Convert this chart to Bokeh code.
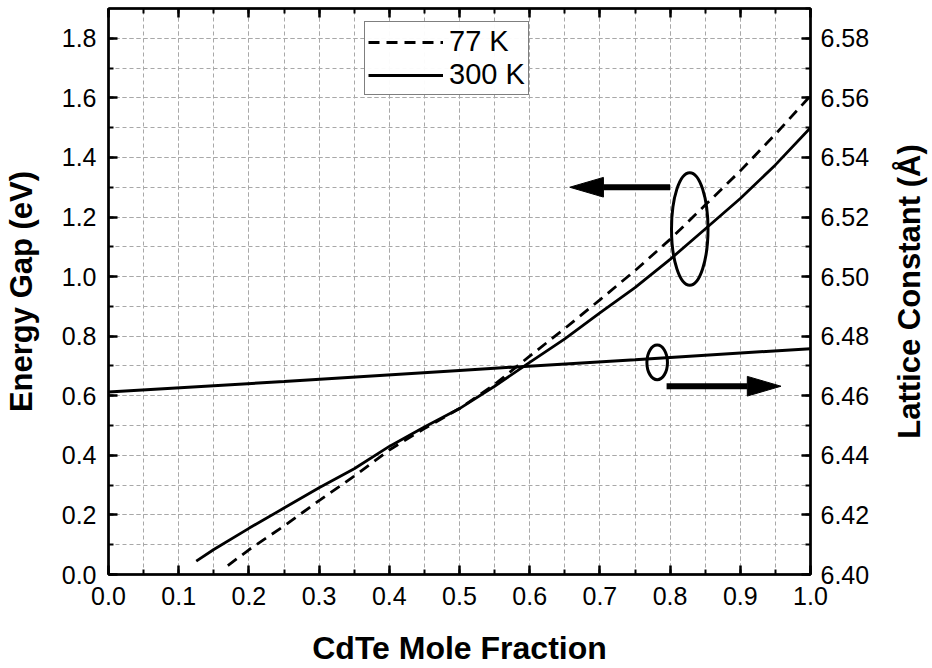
from bokeh.plotting import figure
from bokeh.layouts import row
from bokeh.models import (Range1d, LinearAxis, SingleIntervalTicker, PrintfTickFormatter,
                          Legend, LegendItem, CustomLabelingPolicy, FixedTicker)
from bokeh.embed import file_html
from bokeh.resources import INLINE

# ---------------- data ----------------
x_300k = [0.125, 0.15, 0.2, 0.25, 0.3, 0.35, 0.4, 0.45, 0.5, 0.55, 0.6, 0.65, 0.7,
          0.75, 0.8, 0.85, 0.9, 0.95, 1.0]
eg_300k = [0.045, 0.084, 0.155, 0.223, 0.291, 0.355, 0.430, 0.495, 0.557, 0.632, 0.712,
           0.791, 0.878, 0.963, 1.058, 1.160, 1.262, 1.375, 1.500]

x_77k = [0.17, 0.2, 0.25, 0.3, 0.35, 0.4, 0.45, 0.5, 0.55, 0.6, 0.65, 0.7, 0.75,
         0.8, 0.85, 0.9, 0.95, 1.0]
eg_77k = [0.030, 0.083, 0.163, 0.248, 0.330, 0.418, 0.490, 0.557, 0.638, 0.733, 0.826,
          0.922, 1.020, 1.125, 1.240, 1.355, 1.478, 1.607]

x_lat = [0.0, 0.25, 0.5, 0.75, 1.0]
lattice = [6.4613, 6.4648, 6.4685, 6.4721, 6.4758]

legend_labels = ["77 K", "300 K"]
x_title = "CdTe Mole Fraction"
y_title = "Energy Gap (eV)"
y2_title = "Lattice Constant (Å)"

# annotation marks (ellipses and arrows)
ell_x = [0.828, 0.7816]
ell_y = [1.160, 0.712]
ell_w = [0.052, 0.0293]
ell_h = [0.378, 0.116]
arrow_tail_x = [0.800, 0.795]
arrow_tip_x = [0.657, 0.958]
arrow_y = [1.300, 0.632]
HEAD_LEN = 0.048      # along x (data units)
HEAD_HALF = 0.033     # along y (data units)

FONT = "Liberation Sans"
W_MAIN, W_SIDE, H = 872, 60, 668

p = figure(width=W_MAIN, height=H, x_range=Range1d(0, 1), y_range=Range1d(0, 1.9),
           output_backend="svg", toolbar_location=None,
           min_border_left=106, min_border_right=61, min_border_top=8, min_border_bottom=92)
p.extra_y_ranges = {"lat": Range1d(6.40, 6.59)}

p.outline_line_color = "black"
p.outline_line_width = 2

def style_axis(ax, fmt):
    ax.axis_line_width = 2.5
    ax.axis_line_color = "black"
    ax.major_tick_in = 9
    ax.major_tick_out = 0
    ax.minor_tick_in = 5
    ax.minor_tick_out = 0
    ax.major_tick_line_width = 2.5
    ax.minor_tick_line_width = 2
    ax.major_label_text_font = FONT
    ax.major_label_text_font_size = "25px"
    ax.major_label_text_color = "black"
    ax.axis_label_text_font = FONT
    ax.axis_label_text_font_size = "31px"
    ax.axis_label_text_font_style = "bold"
    ax.axis_label_text_color = "black"
    ax.formatter = PrintfTickFormatter(format=fmt)

xt = SingleIntervalTicker(interval=0.1, num_minor_ticks=2)
yt = SingleIntervalTicker(interval=0.2, num_minor_ticks=2)
y2t = SingleIntervalTicker(interval=0.02, num_minor_ticks=2)

p.xaxis.ticker = xt
p.yaxis.ticker = yt
style_axis(p.xaxis[0], "%.1f")
style_axis(p.yaxis[0], "%.1f")
p.xaxis.axis_label = x_title
p.yaxis.axis_label = y_title
p.xaxis.axis_label_text_font_size = "32px"
p.xaxis.major_label_standoff = 12
p.yaxis.major_label_standoff = 12
p.xaxis.axis_label_standoff = 22
p.yaxis.axis_label_standoff = 20

rax = LinearAxis(y_range_name="lat", ticker=y2t)
style_axis(rax, "%.2f")
rax.major_label_standoff = 10
p.add_layout(rax, "right")

tax = LinearAxis(ticker=xt)
style_axis(tax, "%.1f")
tax.major_label_standoff = 0
tax.major_label_text_font_size = "0px"
tax.major_label_policy = CustomLabelingPolicy(
    code="for (const i of Array.from(indices)) { indices.unset(i) }; return indices")
p.add_layout(tax, "above")

for g in (p.xgrid[0], p.ygrid[0]):
    g.grid_line_color = "#a8a8a8"
    g.grid_line_dash = "4 3"
    g.grid_line_width = 1
    g.minor_grid_line_color = "#a8a8a8"
    g.minor_grid_line_dash = "4 3"
    g.minor_grid_line_width = 1

r77 = p.line(x_77k, eg_77k, line_color="black", line_width=2.8, line_dash="11 7")
r300 = p.line(x_300k, eg_300k, line_color="black", line_width=2.8)
p.line(x_lat, lattice, line_color="black", line_width=3, y_range_name="lat")

p.ellipse(x=ell_x, y=ell_y, width=ell_w, height=ell_h, fill_color=None,
          line_color="black", line_width=3)

# arrows: shaft + filled triangular head, built from the arrow constants
shaft_x0, shaft_x1, head_xs, head_ys = [], [], [], []
for tx, hx, ay in zip(arrow_tail_x, arrow_tip_x, arrow_y):
    d = 1 if hx > tx else -1
    base = hx - d * HEAD_LEN
    shaft_x0.append(tx)
    shaft_x1.append(base)
    head_xs.append([base, hx, base])
    head_ys.append([ay + HEAD_HALF, ay, ay - HEAD_HALF])
p.segment(x0=shaft_x0, y0=arrow_y, x1=shaft_x1, y1=arrow_y, line_color="black",
          line_width=6)
p.patches(xs=head_xs, ys=head_ys, fill_color="black", line_color="black", line_width=1)

legend = Legend(items=[LegendItem(label=legend_labels[0], renderers=[r77]),
                       LegendItem(label=legend_labels[1], renderers=[r300])],
                location=(256, 479), label_text_font=FONT, label_text_font_size="29px",
                label_text_color="black", glyph_width=75, glyph_height=24,
                label_height=24, label_standoff=6, padding=3, spacing=0, margin=0,
                border_line_color="black", border_line_width=1.5,
                label_text_line_height=1.0)
p.add_layout(legend, "center")

# side strip carrying the right-hand axis title (reads bottom to top)
p2 = figure(width=W_SIDE, height=H, x_range=Range1d(0, 1), y_range=Range1d(0, 1),
            output_backend="svg", toolbar_location=None,
            min_border_left=W_SIDE - 2, min_border_right=0, min_border_top=8,
            min_border_bottom=92)
p2.outline_line_color = None
p2.grid.visible = False
p2.xaxis.visible = False
ax2 = p2.yaxis[0]
ax2.ticker = FixedTicker(ticks=[])
ax2.axis_line_color = None
ax2.major_tick_line_color = None
ax2.minor_tick_line_color = None
ax2.major_tick_in = 0
ax2.major_tick_out = 0
ax2.minor_tick_in = 0
ax2.minor_tick_out = 0
ax2.major_label_standoff = 0
ax2.axis_label = y2_title
ax2.axis_label_standoff = 4
ax2.axis_label_text_font = FONT
ax2.axis_label_text_font_size = "31px"
ax2.axis_label_text_font_style = "bold"
ax2.axis_label_text_color = "black"

layout = row(p, p2, spacing=0)
open("out.html", "w").write(file_html(layout, INLINE))
